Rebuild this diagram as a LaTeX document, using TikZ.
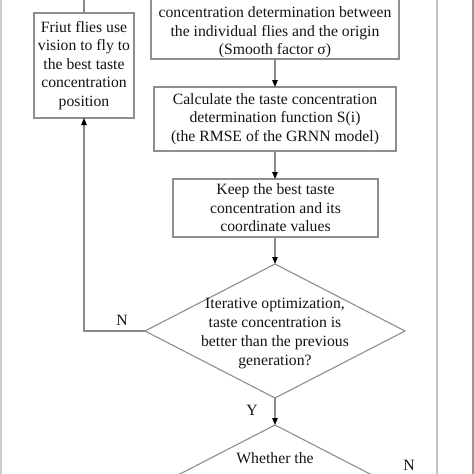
\documentclass[tikz,border=0pt]{standalone}
\usepackage{fontspec}
\setmainfont{Liberation Serif}
\usetikzlibrary{arrows.meta,shapes.geometric}
\definecolor{boxgray}{HTML}{8E8E8E}
\definecolor{linegray}{HTML}{8A8A8A}
\definecolor{lightline}{HTML}{C2C2C2}
\definecolor{txt}{HTML}{141414}
\tikzset{
  every node/.style={text=txt},
  lbl/.style={font=\fontsize{15.7}{18.5}\selectfont, align=center, inner sep=0pt},
  boxnode/.style={draw=boxgray, line width=1.1pt, inner sep=0pt, outer sep=0pt, rectangle},
  dia/.style={draw=boxgray, line width=1.1pt, diamond, inner sep=0pt, outer sep=0pt, minimum width=260pt, minimum height=134pt},
  conn/.style={draw=linegray, line width=1.1pt},
  arr/.style={conn, -{Triangle[length=7pt,width=5.5pt,fill=black,color=black]}},
}
\begin{document}
\begin{tikzpicture}[x=1pt,y=-1pt]
\useasboundingbox (0,0) rectangle (474,474);
\fill[white] (0,0) rectangle (474,474);
\begin{scope}
\clip (0,0) rectangle (474,474);
% top box (cut off at top)
\node[boxnode, minimum width=248pt, minimum height=120pt, anchor=south] (topbox) at (275,59) {};
\node[lbl] (toptext) at (275,32.5) {concentration determination between\\the individual flies and the origin\\(Smooth factor σ)};
% left box
\node[boxnode, minimum width=100pt, minimum height=105pt, lbl] (left) at (84,65.5) {Friut flies use\\vision to fly to\\the best taste\\concentration\\position};
% box 2
\node[boxnode, minimum width=242pt, minimum height=64pt, lbl] (calc) at (275,119) {Calculate the taste concentration\\determination function S(i)\\(the RMSE of the GRNN model)};
% box 3
\node[boxnode, minimum width=205pt, minimum height=58pt, lbl] (keep) at (275.5,208) {Keep the best taste\\concentration and its\\coordinate values};
% diamond 1
\node[dia] (d1) at (275,331) {};
\node[lbl, font=\fontsize{15.7}{19}\selectfont] (d1text) at (275,333.5) {Iterative optimization,\\taste concentration is\\better than the previous\\generation?};
% diamond 2
\node[dia] (d2) at (275,492) {};
\node[lbl] (d2text) at (275,458) {Whether the};
% coordinates
\coordinate (lefttop) at (84,-5);
\coordinate (ncorner) at (84,331);
\coordinate (rcorner) at (437,492);
\coordinate (rtop) at (437,-5);
% connectors
\draw[conn] (left.north) -- (lefttop);
\draw[arr] (topbox.south -| calc.north) -- (calc.north);
\draw[arr] (calc.south) -- (keep.north -| calc.south);
\draw[arr] (keep.south -| d1.north) -- (d1.north);
\draw[arr] (d1.west) -- (ncorner) -- (left.south);
\draw[arr] (d1.south) -- (d2.north);
\draw[draw=lightline, line width=1.2pt] (d2.east) -- (rcorner) -- (rtop);
% labels
\node[lbl] (nlab) at (122,320) {N};
\node[lbl] (ylab) at (252,410) {Y};
\node[lbl] (nlab2) at (409,465) {N};
\end{scope}
% frame edges
\fill[gray!40] (0,0) rectangle (2,474);
\fill[gray!80] (472,0) rectangle (474,474);
\end{tikzpicture}
\end{document}
